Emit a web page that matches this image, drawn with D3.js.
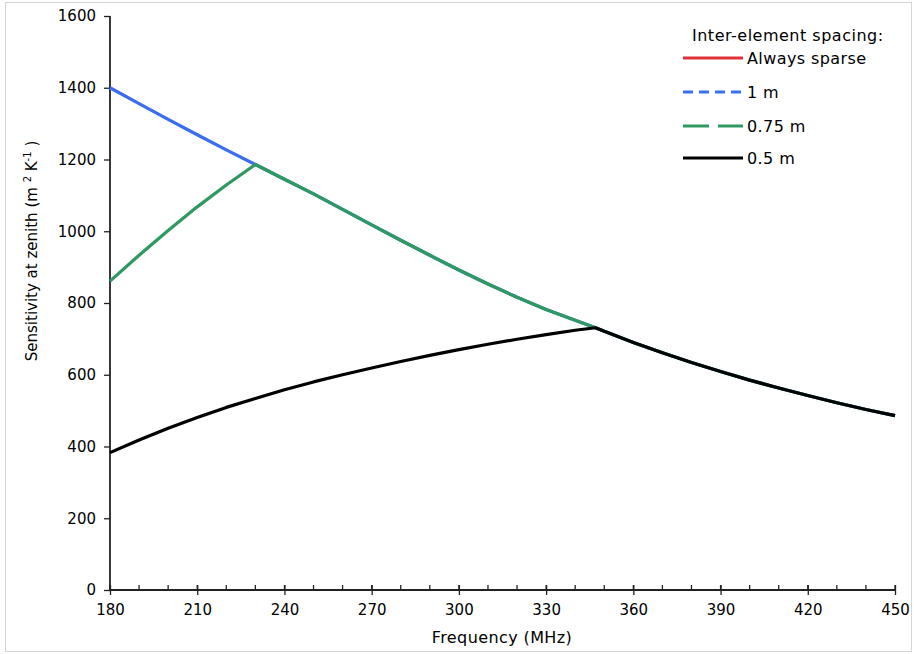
<!DOCTYPE html>
<html><head><meta charset="utf-8">
<script src="https://cdn.jsdelivr.net/npm/d3@7"></script>
<style>
body{margin:0;background:#fff;}
svg text{font-family:"DejaVu Sans",Verdana,sans-serif;fill:#000;}
</style></head>
<body>
<svg id="chart" width="914" height="654"></svg>
<script>
const freqs = [180,190,200,210,220,230,240,250,260,270,280,290,300,310,320,330,340,347,350,360,370,380,390,400,410,420,430,440,450];
const sparseVals = [1400,1356,1312,1269,1227,1186,1145,1104,1061,1018,975,933,892,853,816,782,752,731,721,690,661,634,609,585,563,542,522,503,486];
const oneMVals = sparseVals.slice();
const m075Vals = [861,933,1002,1068,1129,1186,1145,1104,1061,1018,975,933,892,853,816,782,752,731,721,690,661,634,609,585,563,542,522,503,486];
const m05Vals = [383,418,451,481,509,534,558,580,600,619,637,654,670,685,699,712,724,731,721,690,661,634,609,585,563,542,522,503,486];
const seriesNames = ["Always sparse","1 m","0.75 m","0.5 m"];
const seriesColors = ["#e0313b","#3a6cf4","#2e9960","#000000"];
const seriesDash = [null,"10,6","26,9",null];
const xTicks = [180,210,240,270,300,330,360,390,420,450];
const yTicks = [0,200,400,600,800,1000,1200,1400,1600];

const svg = d3.select("#chart");
svg.append("rect").attr("x",5.5).attr("y",2.5).attr("width",906).attr("height",649)
  .attr("fill","#fff").attr("stroke","#d4d4d4");

const x = d3.scaleLinear().domain([180,450]).range([110,895]);
const y = d3.scaleLinear().domain([0,1600]).range([590,16]);

// minor x ticks (up only)
svg.append("g").selectAll("line").data(d3.range(180,451,10)).join("line")
  .attr("x1",d=>x(d)).attr("x2",d=>x(d)).attr("y1",585).attr("y2",590)
  .attr("stroke","#222").attr("stroke-width",1.3);

// x axis
const xAxis = d3.axisBottom(x).tickValues(xTicks).tickSize(5).tickPadding(9).tickFormat(d3.format("d"));
const gx = svg.append("g").attr("transform","translate(0,590)").call(xAxis);
gx.select(".domain").attr("stroke","#222").attr("stroke-width",1.8).attr("d","M110,0H895");
gx.selectAll(".tick line").attr("stroke","#222").attr("stroke-width",1.3).attr("y1",-5).attr("y2",5);
gx.selectAll("text").attr("font-size",15).attr("fill","#000").style("font-family","DejaVu Sans");

// y axis
const yAxis = d3.axisLeft(y).tickValues(yTicks).tickSize(6).tickPadding(8).tickFormat(d3.format("d"));
const gy = svg.append("g").attr("transform","translate(110,0)").call(yAxis);
gy.select(".domain").attr("stroke","#222").attr("stroke-width",1.8).attr("d","M0,16V590");
gy.selectAll(".tick line").attr("stroke","#222").attr("stroke-width",1.3);
gy.selectAll("text").attr("font-size",15).attr("fill","#000").style("font-family","DejaVu Sans");

// axis titles
svg.append("text").attr("x",502).attr("y",643).attr("text-anchor","middle").attr("font-size",16)
  .attr("letter-spacing",0.4).text("Frequency (MHz)");
const yt = svg.append("text").attr("transform","translate(37,251) rotate(-90)").attr("text-anchor","middle").attr("font-size",15);
yt.append("tspan").text("Sensitivity at zenith (m ");
yt.append("tspan").attr("font-size",10).attr("dy",-6).text("2");
yt.append("tspan").attr("dy",6).text(" K");
yt.append("tspan").attr("font-size",10).attr("dy",-6).text("-1");
yt.append("tspan").attr("dy",6).text(" )");

// lines
const allVals = [sparseVals,oneMVals,m075Vals,m05Vals];
const widths = [2.0,3.2,3.2,3.2];
const line = d3.line().x(d=>x(d[0])).y(d=>y(d[1]));
allVals.forEach((vals,i)=>{
  svg.append("path").datum(freqs.map((f,j)=>[f,vals[j]]))
    .attr("d",line).attr("fill","none").attr("stroke",seriesColors[i])
    .attr("stroke-width",widths[i]).attr("stroke-linejoin","round");
});

// legend
const lg = svg.append("g");
lg.append("text").attr("x",692).attr("y",41).attr("font-size",16).attr("letter-spacing",0.5).text("Inter-element spacing:");
const rowsY = [58,92,126,158];
seriesNames.forEach((n,i)=>{
  lg.append("line").attr("x1",683).attr("x2",743).attr("y1",rowsY[i]).attr("y2",rowsY[i])
    .attr("stroke",seriesColors[i]).attr("stroke-width",3).attr("stroke-dasharray",seriesDash[i]);
  lg.append("text").attr("x",747).attr("y",rowsY[i]+6).attr("font-size",16).attr("letter-spacing",0.4).text(n);
});
</script>
</body></html>
